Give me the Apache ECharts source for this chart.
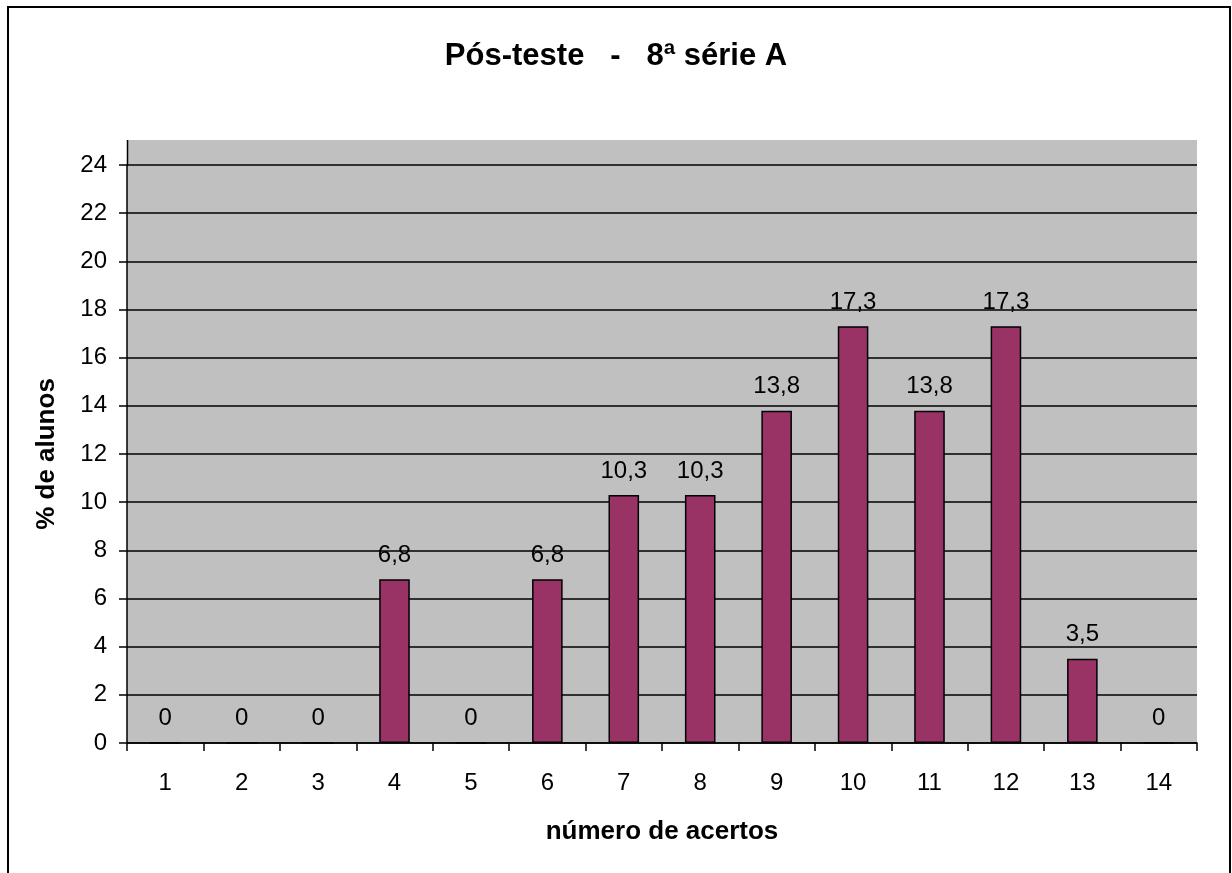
<!DOCTYPE html>
<html>
<head>
<meta charset="utf-8">
<script src="https://cdn.jsdelivr.net/npm/echarts@6/dist/echarts.min.js"></script>
<style>
  html, body { margin: 0; padding: 0; background: #fff; }
  #chart { width: 1232px; height: 873px; }
</style>
</head>
<body>
<div id="chart"></div>
<script>
// dados
const categorias = ['1', '2', '3', '4', '5', '6', '7', '8', '9', '10', '11', '12', '13', '14']
const percentAlunos = [0, 0, 0, 6.8, 0, 6.8, 10.3, 10.3, 13.8, 17.3, 13.8, 17.3, 3.5, 0]
const yMin = 0
const yMax = 24
const yStep = 2

const fonte = '"Liberation Sans", Arial, sans-serif'

const chart = echarts.init(document.getElementById('chart'))

chart.setOption({
  animation: false,
  backgroundColor: '#fff',
  title: {
    text: 'Pós-teste   -   8ª série A',
    left: 'center',
    top: 36,
    textStyle: { fontFamily: fonte, fontSize: 31, fontWeight: 'bold', color: '#000' }
  },
  grid: {
    left: 127,
    right: 35,
    top: 165,
    bottom: 130,
    show: true,
    backgroundColor: '#C0C0C0',
    borderWidth: 0
  },
  // moldura externa e faixa cinza acima do 24
  graphic: [
    {
      type: 'rect',
      z: -1,
      shape: { x: 127, y: 140, width: 1070, height: 26 },
      style: { fill: '#C0C0C0' }
    },
    {
      type: 'line',
      shape: { x1: 127.5, y1: 140, x2: 127.5, y2: 166 },
      style: { stroke: '#000', lineWidth: 1.5 }
    },
    {
      type: 'rect',
      shape: { x: 8, y: 7, width: 1222, height: 900 },
      style: { fill: 'none', stroke: '#000', lineWidth: 2 }
    }
  ],
  xAxis: {
    type: 'category',
    data: categorias,
    name: 'número de acertos',
    nameLocation: 'middle',
    nameGap: 76,
    nameTextStyle: { fontFamily: fonte, fontSize: 26, fontWeight: 'bold', color: '#000' },
    axisLine: { lineStyle: { color: '#000', width: 1.5 } },
    axisTick: { show: true, length: 8, lineStyle: { color: '#000', width: 1.5 } },
    axisLabel: { margin: 28, fontFamily: fonte, fontSize: 24, color: '#000' }
  },
  yAxis: {
    type: 'value',
    min: yMin,
    max: yMax,
    interval: yStep,
    name: '% de alunos',
    nameLocation: 'middle',
    nameGap: 67,
    nameTextStyle: { fontFamily: fonte, fontSize: 26, fontWeight: 'bold', color: '#000' },
    axisLine: { show: true, lineStyle: { color: '#000', width: 1.5 } },
    axisTick: { show: true, length: 8, lineStyle: { color: '#000', width: 1.5 } },
    axisLabel: { margin: 20, fontFamily: fonte, fontSize: 24, color: '#000' },
    splitLine: { show: true, lineStyle: { color: '#000', width: 1.5 } }
  },
  series: [
    {
      type: 'bar',
      data: percentAlunos,
      barWidth: '40%',
      itemStyle: { color: '#993366', borderColor: '#000', borderWidth: 1.5 },
      label: {
        show: true,
        position: 'top',
        distance: 12,
        fontFamily: fonte,
        fontSize: 24,
        color: '#000',
        formatter: (p) => String(p.value).replace('.', ',')
      }
    }
  ]
})
</script>
</body>
</html>
